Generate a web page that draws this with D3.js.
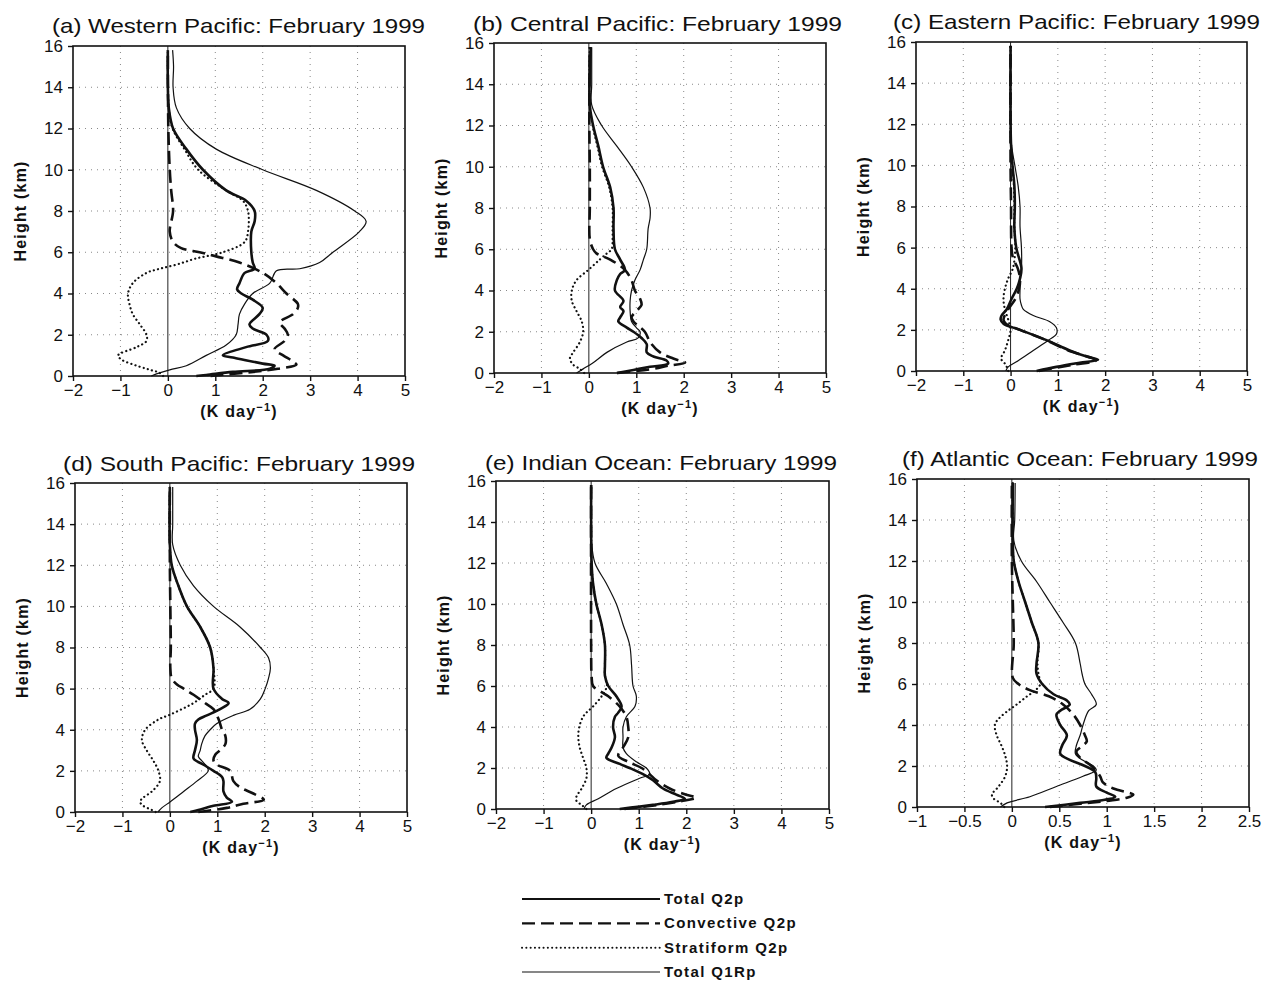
<!DOCTYPE html>
<html>
<head>
<meta charset="utf-8">
<script src="https://cdn.jsdelivr.net/npm/d3@7"></script>
<style>
  body { margin: 0; background: #fff; }
  svg { display: block; }
  text { font-family: "Liberation Sans", Arial, sans-serif; fill: #111; }
</style>
</head>
<body>
<svg id="chart" width="1268" height="989"></svg>
<script>
// profiles are [height km, K/day] pairs

// (a) Western Pacific
const wpTotalQ2p = [[0,0.6],[0.05,0.81],[0.2,1.37],[0.35,2.15],[0.5,2.25],[0.6,2.0],[0.9,1.37],[1.0,1.16],[1.4,1.65],[1.7,2.11],[2.0,2.08],[2.3,1.79],[2.5,1.72],[3.0,1.93],[3.3,2.0],[3.7,1.79],[4.0,1.55],[4.2,1.46],[4.5,1.51],[5.0,1.62],[5.2,1.83],[5.5,1.79],[6,1.76],[7,1.76],[7.5,1.83],[8,1.83],[8.5,1.65],[9,1.23],[10,0.74],[11,0.39],[12,0.11],[13,0.02],[14,0.0],[15.8,0.0]];
const wpConvQ2p = [[0,0.9],[0.2,1.8],[0.35,2.32],[0.55,2.71],[0.7,2.64],[1.0,2.43],[1.3,2.25],[1.7,2.46],[2.0,2.53],[2.3,2.46],[2.6,2.36],[3.0,2.64],[3.3,2.74],[3.5,2.74],[4.0,2.5],[4.5,2.29],[5.0,2.0],[5.5,1.51],[5.8,1.02],[6.0,0.67],[6.2,0.28],[6.5,0.11],[7,0.04],[8,0.11],[9,0.07],[10,0.04],[12,0.01],[15.8,0.0]];
const wpStratQ2p = [[0,-0.1],[0.15,-0.17],[0.3,-0.38],[0.5,-0.66],[0.8,-0.98],[1.0,-1.05],[1.4,-0.66],[1.7,-0.45],[2.0,-0.45],[2.5,-0.59],[3.0,-0.74],[3.5,-0.81],[4.0,-0.84],[4.5,-0.74],[5.0,-0.45],[5.2,-0.17],[5.4,0.18],[5.7,0.6],[6.0,1.16],[6.5,1.62],[7,1.69],[8,1.69],[8.5,1.58],[9,1.23],[10,0.64],[11,0.35],[12,0.1],[13,0.02],[15.8,0.0]];
const wpQ1Rp = [[0,-0.35],[0.1,-0.24],[0.3,0.04],[0.5,0.39],[1,0.81],[1.5,1.23],[2,1.44],[2.5,1.48],[3,1.51],[3.5,1.62],[4,1.79],[4.5,2.15],[5.1,2.29],[5.2,2.78],[5.5,3.2],[6,3.48],[7,4.04],[7.5,4.18],[8,3.94],[9,3.13],[10,2.0],[11,1.02],[12,0.46],[13,0.18],[14,0.11],[15,0.12],[15.8,0.1]];

// (b) Central Pacific
const cpTotalQ2p = [[0,0.59],[0.15,0.94],[0.3,1.29],[0.45,1.67],[0.6,1.64],[0.8,1.36],[1.0,1.22],[1.4,1.22],[1.7,1.11],[2.0,0.94],[2.2,0.8],[2.5,0.62],[2.7,0.66],[3.0,0.73],[3.2,0.66],[3.5,0.73],[4.0,0.55],[4.5,0.59],[4.8,0.66],[5.0,0.76],[5.5,0.66],[6,0.55],[7,0.52],[8,0.52],[9,0.45],[10,0.3],[11,0.2],[12,0.09],[13,0.02],[15.8,0.04]];
const cpConvQ2p = [[0,0.6],[0.2,1.36],[0.35,1.67],[0.5,2.03],[0.7,1.78],[1.0,1.5],[1.5,1.29],[2.0,1.18],[2.5,0.94],[2.7,0.9],[3.0,1.0],[3.3,1.11],[3.6,1.08],[4.0,0.97],[4.5,0.9],[5.0,0.76],[5.5,0.45],[5.8,0.16],[6.0,0.09],[6.5,0.02],[8,0.02],[10,0.02],[12,0.01],[15.8,0.02]];
const cpStratQ2p = [[0,-0.1],[0.2,-0.19],[0.4,-0.33],[0.7,-0.4],[1.0,-0.33],[1.5,-0.19],[2.0,-0.12],[2.5,-0.15],[3.0,-0.26],[3.5,-0.36],[4.0,-0.36],[4.5,-0.26],[5.0,-0.01],[5.5,0.23],[5.8,0.38],[6.0,0.48],[6.5,0.5],[7,0.5],[8,0.5],[9,0.43],[10,0.28],[11,0.18],[12,0.08],[13,0.02],[15.8,0.02]];
const cpQ1Rp = [[0,-0.26],[0.2,-0.12],[0.5,0.09],[1,0.38],[1.5,0.8],[1.7,1.04],[2,1.08],[2.2,1.0],[2.5,0.9],[3,0.87],[3.5,0.87],[4,0.9],[4.5,0.97],[5,1.08],[5.5,1.15],[6,1.22],[7,1.25],[7.5,1.29],[8,1.29],[9,1.15],[10,0.9],[11,0.59],[12,0.27],[13,0.06],[14,0.06],[15.8,0.06]];

// (c) Eastern Pacific
const epTotalQ2p = [[0,0.55],[0.2,0.97],[0.4,1.46],[0.55,1.85],[0.7,1.61],[1,1.25],[1.5,0.76],[2,0.2],[2.3,-0.15],[2.5,-0.21],[2.7,-0.19],[3,-0.08],[3.5,0.02],[4,0.13],[4.5,0.2],[5,0.23],[6,0.12],[7,0.08],[8,0.09],[9,0.08],[10,0.04],[11,0.01],[12,0.0],[15.8,0.0]];
const epConvQ2p = [[0,0.6],[0.3,1.3],[0.5,1.8],[0.6,1.75],[1,1.22],[1.5,0.75],[2,0.2],[2.3,-0.1],[2.5,-0.15],[3,-0.05],[3.5,0.1],[4,0.18],[4.5,0.2],[5,0.15],[5.5,0.05],[6,0.02],[8,0.01],[10,0.0],[15.8,0.0]];
const epStratQ2p = [[0,-0.05],[0.3,-0.1],[0.6,-0.2],[1,-0.12],[1.5,-0.05],[2,0.0],[2.5,-0.05],[3,-0.12],[3.5,-0.15],[4,-0.12],[4.5,-0.05],[5,0.05],[6,0.1],[7,0.08],[8,0.08],[9,0.07],[10,0.04],[11,0.01],[12,0.0],[15.8,0.0]];
const epQ1Rp = [[0,-0.1],[0.2,-0.05],[0.5,0.16],[1,0.48],[1.5,0.8],[1.8,0.97],[2.1,0.97],[2.4,0.83],[2.7,0.48],[3,0.27],[3.2,0.23],[3.5,0.2],[4,0.2],[4.5,0.2],[5,0.23],[6,0.23],[7,0.2],[8,0.2],[9,0.16],[10,0.09],[11,0.02],[12,0.0],[15.8,0.0]];

// (d) South Pacific
const spTotalQ2p = [[0,0.43],[0.1,0.6],[0.3,0.92],[0.5,1.31],[0.7,1.2],[1,1.13],[1.5,1.13],[1.7,1.1],[2,0.92],[2.3,0.71],[2.6,0.5],[3,0.53],[3.5,0.57],[4,0.53],[4.3,0.53],[4.5,0.6],[4.7,0.78],[5,1.06],[5.3,1.24],[5.5,1.1],[6,0.92],[7,0.92],[8,0.85],[9,0.64],[10,0.36],[11,0.18],[12,0.04],[13,0.0],[15.8,0.0]];
const spConvQ2p = [[0,0.6],[0.2,1.2],[0.4,1.55],[0.6,1.98],[0.9,1.76],[1.2,1.48],[1.5,1.34],[2,1.27],[2.3,0.99],[2.5,0.92],[2.8,0.96],[3,1.06],[3.3,1.17],[3.7,1.17],[4,1.1],[4.5,1.03],[5,0.92],[5.3,0.74],[5.7,0.5],[6,0.29],[6.2,0.15],[6.5,0.04],[7,0.01],[8,0.02],[10,0.01],[12,0.0],[15.8,0.0]];
const spStratQ2p = [[0,-0.3],[0.1,-0.38],[0.3,-0.56],[0.5,-0.63],[0.7,-0.56],[1,-0.38],[1.5,-0.21],[2,-0.24],[2.5,-0.35],[3,-0.49],[3.5,-0.59],[4,-0.52],[4.5,-0.24],[4.7,-0.03],[5,0.25],[5.3,0.5],[5.7,0.74],[6,0.92],[7,0.92],[8,0.85],[9,0.64],[10,0.36],[11,0.18],[12,0.04],[13,0.0],[15.8,0.0]];
const spQ1Rp = [[0,-0.25],[0.2,-0.17],[0.5,0.01],[1,0.29],[1.5,0.57],[2,0.81],[2.2,0.78],[2.5,0.67],[2.7,0.6],[3,0.64],[3.3,0.67],[3.7,0.74],[4,0.85],[4.3,0.99],[4.7,1.34],[5,1.69],[5.5,1.91],[6,2.01],[6.5,2.08],[7,2.12],[7.5,2.08],[8,1.91],[9,1.48],[10,0.92],[11,0.5],[12,0.22],[13,0.06],[14,0.06],[15.8,0.06]];

// (e) Indian Ocean
const ioTotalQ2p = [[0,0.6],[0.2,1.3],[0.35,1.72],[0.5,1.97],[0.7,1.79],[1,1.51],[1.4,1.3],[1.7,1.09],[2,0.81],[2.2,0.6],[2.5,0.32],[2.7,0.36],[3,0.43],[3.5,0.5],[4,0.46],[4.5,0.5],[4.7,0.57],[5,0.64],[5.5,0.53],[6,0.36],[6.5,0.29],[7,0.29],[8,0.29],[9,0.22],[10,0.11],[11,0.04],[12,0.01],[15.8,0.0]];
const ioConvQ2p = [[0,0.7],[0.2,1.4],[0.4,1.93],[0.55,2.21],[0.7,2.0],[1,1.65],[1.4,1.37],[1.7,1.23],[2,1.06],[2.3,0.78],[2.6,0.57],[3,0.67],[3.5,0.78],[4,0.78],[4.5,0.74],[5,0.6],[5.5,0.36],[5.7,0.22],[6,0.04],[6.5,0.01],[8,0.0],[15.8,0.0]];
const ioStratQ2p = [[0,-0.1],[0.2,-0.2],[0.4,-0.31],[0.6,-0.31],[1,-0.2],[1.5,-0.1],[2,-0.1],[2.5,-0.17],[3,-0.24],[3.5,-0.27],[4,-0.25],[4.5,-0.17],[4.7,-0.1],[5,0.04],[5.5,0.22],[6,0.33],[6.5,0.29],[7,0.29],[8,0.29],[9,0.22],[10,0.11],[11,0.04],[12,0.01],[15.8,0.0]];
const ioQ1Rp = [[0,-0.15],[0.2,-0.1],[0.5,0.15],[1,0.53],[1.5,1.02],[1.7,1.23],[2,1.16],[2.3,0.95],[2.7,0.74],[3,0.67],[3.5,0.67],[4,0.67],[4.5,0.74],[5,0.92],[5.5,0.95],[6,0.88],[7,0.85],[8,0.81],[9,0.67],[10,0.53],[11,0.32],[12,0.08],[13,0.01],[15.8,0.01]];

// (f) Atlantic Ocean
const aoTotalQ2p = [[0,0.35],[0.2,0.72],[0.35,0.98],[0.5,1.09],[0.7,1.0],[1,0.89],[1.4,0.89],[1.7,0.88],[2,0.77],[2.3,0.61],[2.6,0.51],[3,0.53],[3.5,0.58],[4,0.51],[4.5,0.47],[4.7,0.51],[5,0.61],[5.2,0.58],[5.5,0.44],[6,0.32],[6.5,0.26],[7,0.26],[8,0.28],[9,0.21],[10,0.14],[11,0.07],[12,0.02],[13,0.01],[15.8,0.01]];
const aoConvQ2p = [[0,0.4],[0.3,1.0],[0.45,1.21],[0.6,1.28],[0.9,1.07],[1.2,0.96],[1.5,0.93],[2,0.84],[2.4,0.72],[2.7,0.68],[3,0.75],[3.2,0.79],[3.5,0.77],[4,0.72],[4.5,0.65],[5,0.54],[5.4,0.39],[5.7,0.19],[6,0.07],[6.3,0.01],[8,0.02],[10,0.01],[12,0.0],[15.8,0.0]];
const aoStratQ2p = [[0,-0.08],[0.2,-0.12],[0.4,-0.19],[0.6,-0.21],[1,-0.14],[1.5,-0.07],[2,-0.05],[2.5,-0.07],[3,-0.11],[3.5,-0.16],[4,-0.18],[4.3,-0.14],[4.7,-0.04],[5,0.05],[5.4,0.16],[5.7,0.25],[6,0.3],[6.5,0.28],[7,0.27],[8,0.28],[9,0.21],[10,0.14],[11,0.07],[12,0.02],[13,0.01],[15.8,0.01]];
const aoQ1Rp = [[0,-0.12],[0.2,-0.05],[0.5,0.19],[1,0.47],[1.5,0.75],[1.8,0.89],[2,0.86],[2.3,0.74],[2.6,0.67],[3,0.68],[3.5,0.72],[4,0.75],[4.7,0.81],[5,0.89],[5.5,0.84],[6,0.77],[6.5,0.74],[7,0.72],[8,0.67],[9,0.54],[10,0.4],[11,0.26],[12,0.1],[13,0.02],[14,0.03],[15.8,0.035]];

const titles = [
  "(a) Western Pacific: February 1999",
  "(b) Central Pacific: February 1999",
  "(c) Eastern Pacific: February 1999",
  "(d) South Pacific: February 1999",
  "(e) Indian Ocean: February 1999",
  "(f) Atlantic Ocean: February 1999"
];
const wideTicks = [-2, -1, 0, 1, 2, 3, 4, 5];
const narrowTicks = [-1, -0.5, 0, 0.5, 1, 1.5, 2, 2.5];
const heightTicks = [0, 2, 4, 6, 8, 10, 12, 14, 16];
const legendLabels = ["Total Q2p", "Convective Q2p", "Stratiform Q2p", "Total Q1Rp"];

const profiles = [
  [wpTotalQ2p, wpConvQ2p, wpStratQ2p, wpQ1Rp],
  [cpTotalQ2p, cpConvQ2p, cpStratQ2p, cpQ1Rp],
  [epTotalQ2p, epConvQ2p, epStratQ2p, epQ1Rp],
  [spTotalQ2p, spConvQ2p, spStratQ2p, spQ1Rp],
  [ioTotalQ2p, ioConvQ2p, ioStratQ2p, ioQ1Rp],
  [aoTotalQ2p, aoConvQ2p, aoStratQ2p, aoQ1Rp]
];

// frame of each panel and where its title sits
let layout = [
  {x0: 73,  x1: 405,  y0: 46,  y1: 376, tx0: 52,  tx1: 425,  ty: 33,  ticks: wideTicks},
  {x0: 494, x1: 826,  y0: 43,  y1: 373, tx0: 473, tx1: 842,  ty: 31,  ticks: wideTicks},
  {x0: 916, x1: 1247, y0: 42,  y1: 371, tx0: 893, tx1: 1260, ty: 29,  ticks: wideTicks},
  {x0: 75,  x1: 407,  y0: 483, y1: 812, tx0: 63,  tx1: 415,  ty: 471, ticks: wideTicks},
  {x0: 496, x1: 829,  y0: 481, y1: 809, tx0: 485, tx1: 837,  ty: 470, ticks: wideTicks},
  {x0: 917, x1: 1249, y0: 479, y1: 807, tx0: 902, tx1: 1258, ty: 466, ticks: narrowTicks}
];

let styles = [
  {width: 2.6, dash: null,        cap: "butt"},
  {width: 2.6, dash: "13,6",      cap: "butt"},
  {width: 2.2, dash: "0.1,4.2",   cap: "round"},
  {width: 1.2, dash: null,        cap: "butt"}
];

let svg = d3.select("#chart");
svg.append("rect").attr("width", 1268).attr("height", 989).attr("fill", "#fff");

layout.forEach((p, i) => draw_panel(p, titles[i], profiles[i]));
draw_legend();

function draw_panel(p, title, series) {
  let x = d3.scaleLinear()
    .domain(d3.extent(p.ticks))
    .range([p.x0, p.x1]);
  let y = d3.scaleLinear()
    .domain([0, 16])
    .range([p.y1, p.y0]);
  let g = svg.append("g");

  // dotted grid
  g.selectAll(".vgrid")
    .data(p.ticks.slice(1, -1).filter(t => t != 0)).enter()
    .append("line")
    .attr("x1", d => x(d)).attr("x2", d => x(d))
    .attr("y1", p.y0).attr("y2", p.y1)
    .attr("stroke", "#888").attr("stroke-width", 1)
    .attr("stroke-dasharray", "1,5");
  g.selectAll(".hgrid")
    .data(heightTicks.slice(1, -1)).enter()
    .append("line")
    .attr("x1", p.x0).attr("x2", p.x1)
    .attr("y1", d => y(d)).attr("y2", d => y(d))
    .attr("stroke", "#888").attr("stroke-width", 1)
    .attr("stroke-dasharray", "1,5");

  // zero line
  g.append("line")
    .attr("x1", x(0)).attr("x2", x(0))
    .attr("y1", y(0)).attr("y2", y(16))
    .attr("stroke", "#222").attr("stroke-width", 1);

  let line = d3.line()
    .x(d => x(d[1]))
    .y(d => y(d[0]))
    .curve(d3.curveCatmullRom.alpha(0.5));

  // draw thin ones first so the thick curves sit on top
  [3, 2, 1, 0].forEach(k => {
    let s = styles[k];
    g.append("path")
      .datum(series[k])
      .attr("d", line)
      .attr("fill", "none")
      .attr("stroke", "#111")
      .attr("stroke-width", s.width)
      .attr("stroke-linecap", s.cap)
      .attr("stroke-linejoin", "round")
      .attr("stroke-dasharray", s.dash);
  });

  // frame
  g.append("rect")
    .attr("x", p.x0).attr("y", p.y0)
    .attr("width", p.x1 - p.x0).attr("height", p.y1 - p.y0)
    .attr("fill", "none").attr("stroke", "#111").attr("stroke-width", 1.6);

  let fmt = d3.format("~g");
  let xAxis = g.append("g")
    .attr("transform", `translate(0,${p.y1})`)
    .call(d3.axisBottom(x).tickValues(p.ticks).tickFormat(fmt).tickSize(5).tickPadding(3));
  let yAxis = g.append("g")
    .attr("transform", `translate(${p.x0},0)`)
    .call(d3.axisLeft(y).tickValues(heightTicks).tickSize(5).tickPadding(5));
  [xAxis, yAxis].forEach(a => {
    a.select(".domain").remove();
    a.selectAll(".tick line").attr("stroke", "#111").attr("stroke-width", 1.4);
    a.selectAll("text")
      .attr("fill", "#111")
      .style("font-family", '"Liberation Sans", Arial, sans-serif')
      .style("font-size", "17px");
  });

  // title
  g.append("text")
    .attr("x", p.tx0).attr("y", p.ty)
    .attr("textLength", p.tx1 - p.tx0)
    .attr("lengthAdjust", "spacingAndGlyphs")
    .style("font-size", "21px")
    .text(title);

  // axis labels
  g.append("text")
    .attr("transform", `translate(${p.x0 - 47},${(p.y0 + p.y1) / 2}) rotate(-90)`)
    .attr("text-anchor", "middle")
    .style("font-size", "16px")
    .style("font-weight", "bold")
    .style("letter-spacing", "1.2px")
    .text("Height (km)");

  let xl = g.append("text")
    .attr("x", (p.x0 + p.x1) / 2).attr("y", p.y1 + 41)
    .attr("text-anchor", "middle")
    .style("font-size", "16px")
    .style("font-weight", "bold")
    .style("letter-spacing", "1.2px");
  xl.append("tspan").text("(K day");
  xl.append("tspan").attr("dy", -6).style("font-size", "11px").text("−1");
  xl.append("tspan").attr("dy", 6).text(")");
}

function draw_legend() {
  let ly = d3.scalePoint()
    .domain(legendLabels)
    .range([899, 972]);
  let g = svg.append("g");
  legendLabels.forEach((lab, k) => {
    let s = styles[k];
    g.append("line")
      .attr("x1", 522).attr("x2", 660)
      .attr("y1", ly(lab)).attr("y2", ly(lab))
      .attr("stroke", "#111")
      .attr("stroke-width", k == 3 ? 1.2 : (k == 2 ? 2 : 2.2))
      .attr("stroke-linecap", s.cap)
      .attr("stroke-dasharray", s.dash);
    g.append("text")
      .attr("x", 664).attr("y", ly(lab) + 5)
      .style("font-size", "15px")
      .style("font-weight", "bold")
      .style("letter-spacing", "1.4px")
      .text(lab);
  });
}
</script>
</body>
</html>
